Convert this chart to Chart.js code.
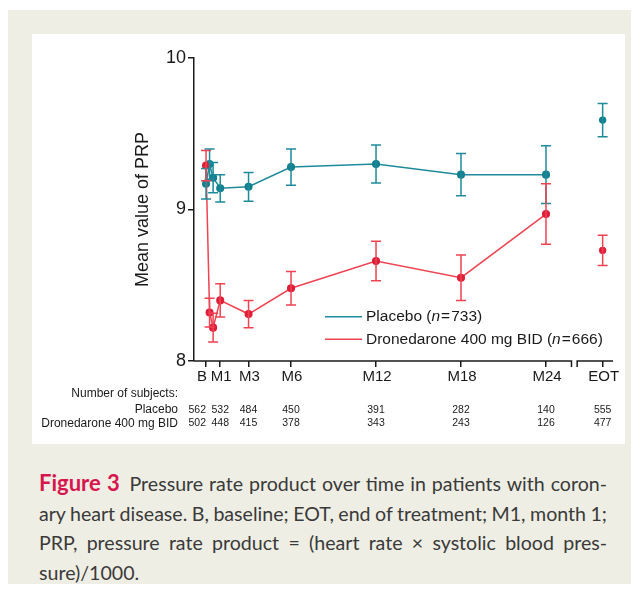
<!DOCTYPE html>
<html>
<head>
<meta charset="utf-8">
<script src="https://cdn.jsdelivr.net/npm/chart.js@4.4.0/dist/chart.umd.min.js"></script>
<style>
  html, body { margin: 0; padding: 0; background: #fff; width: 637px; height: 594px; overflow: hidden; }
  #bg { position: absolute; left: 8px; top: 10px; width: 623px; height: 574px; background: #efeee4; }
  #panel { position: absolute; left: 32px; top: 34px; width: 593px; height: 410px; background: #fff; }
  #cap { position: absolute; left: 39px; top: 468px; width: 568px; font-family: Lato, "Open Sans", sans-serif;
         font-size: 19.6px; line-height: 29.5px; color: #3a3a3a; word-spacing: -1.5px; }
  #cap div { text-align: justify; text-align-last: justify; white-space: nowrap; }
  #cap div.last { text-align: left; text-align-last: left; }
  #cap b { color: #d6164e; font-size: 22px; }
</style>
</head>
<body>
<div id="bg"></div>
<div id="panel"><canvas id="chart" width="593" height="410"></canvas></div>
<div id="cap">
  <div><b>Figure 3</b>&ensp;Pressure rate product over time in patients with coron-</div>
  <div>ary heart disease. B, baseline; EOT, end of treatment; M1, month 1;</div>
  <div>PRP, pressure rate product = (heart rate × systolic blood pres-</div>
  <div class="last">sure)/1000.</div>
</div>
<script>
// visits in months (B = 0, week 1, week 2, M1 ... M24)
const months = [0, 0.25, 0.5, 1, 3, 6, 12, 18, 24];
const placeboMean = [9.17, 9.30, 9.21, 9.14, 9.15, 9.28, 9.30, 9.23, 9.23];
const placeboErr  = [0.10, 0.10, 0.10, 0.09, 0.095, 0.12, 0.125, 0.14, 0.19];
const droneMean   = [9.29, 8.32, 8.22, 8.40, 8.31, 8.48, 8.66, 8.55, 8.97];
const droneErr    = [0.10, 0.095, 0.095, 0.11, 0.09, 0.11, 0.13, 0.15, 0.20];

// end of treatment, drawn apart from the time course
const eotMonth = 28;
const placeboEot = [9.59];
const placeboEotErr = [0.11];
const droneEot = [8.73];
const droneEotErr = [0.10];

const tickMonths = [0, 1, 3, 6, 12, 18, 24, 28];
const tickLabels = ['B', 'M1', 'M3', 'M6', 'M12', 'M18', 'M24', 'EOT'];
const yTicks = [8, 9, 10];

// number of subjects under each tick
const placeboN = [562, 532, 484, 450, 391, 282, 140, 555];
const droneN   = [502, 448, 415, 378, 343, 243, 126, 477];

const TEAL = '#1e8b9b';
const TEAL_DOT = '#13808f';
const RED = '#ef4352';
const RED_DOT = '#dd1f3a';
const INK = '#1a1a1a';
const FONT = '"Liberation Sans", Arial, Helvetica, sans-serif';

const pts = (xs, ys) => xs.map((x, i) => ({ x: x, y: ys[i] }));

const errorBars = {
  id: 'errorBars',
  afterDatasetsDraw(chart) {
    const ctx = chart.ctx;
    const xs = chart.scales.x, ys = chart.scales.y;
    const sets = [
      [months, placeboMean, placeboErr, TEAL],
      [[eotMonth], placeboEot, placeboEotErr, TEAL],
      [months, droneMean, droneErr, RED],
      [[eotMonth], droneEot, droneEotErr, RED]
    ];
    ctx.save();
    ctx.lineWidth = 1.5;
    sets.forEach(([mx, my, me, col]) => {
      ctx.strokeStyle = col;
      mx.forEach((m, i) => {
        const px = xs.getPixelForValue(m);
        const top = ys.getPixelForValue(my[i] + me[i]);
        const bot = ys.getPixelForValue(my[i] - me[i]);
        ctx.beginPath();
        ctx.moveTo(px, top); ctx.lineTo(px, bot);
        ctx.moveTo(px - 5, top); ctx.lineTo(px + 5, top);
        ctx.moveTo(px - 5, bot); ctx.lineTo(px + 5, bot);
        ctx.stroke();
      });
    });
    ctx.restore();
  }
};

const decorations = {
  id: 'decorations',
  afterDraw(chart) {
    const ctx = chart.ctx;
    const a = chart.chartArea;
    const xs = chart.scales.x;
    ctx.save();

    // x axis with a break before EOT
    const b1 = xs.getPixelForValue(25.8), b2 = xs.getPixelForValue(26.2);
    ctx.strokeStyle = INK;
    ctx.lineWidth = 1.5;
    ctx.beginPath();
    ctx.moveTo(a.left, a.bottom); ctx.lineTo(b1, a.bottom); ctx.lineTo(b1, a.bottom + 6);
    ctx.moveTo(b2, a.bottom + 6); ctx.lineTo(b2, a.bottom); ctx.lineTo(a.right, a.bottom);
    ctx.stroke();

    // x tick labels
    ctx.fillStyle = INK;
    ctx.font = '15px ' + FONT;
    ctx.textBaseline = 'middle';
    tickMonths.forEach((m, i) => {
      const px = xs.getPixelForValue(m);
      if (i === 0) { ctx.textAlign = 'right'; ctx.fillText(tickLabels[i], px + 1, a.bottom + 16); }
      else { ctx.textAlign = 'center'; ctx.fillText(tickLabels[i], px + 1, a.bottom + 16); }
    });

    // y title
    ctx.save();
    ctx.translate(111, (a.top + a.bottom) / 2);
    ctx.rotate(-Math.PI / 2);
    ctx.textAlign = 'center';
    ctx.font = '18px ' + FONT;
    ctx.fillText('Mean value of PRP', 0, 0);
    ctx.restore();

    // number of subjects table
    ctx.font = '12px ' + FONT;
    ctx.textAlign = 'right';
    ctx.fillText('Number of subjects:', 146, a.bottom + 33);
    ctx.fillText('Placebo', 146, a.bottom + 49);
    ctx.fillText('Dronedarone 400 mg BID', 146, a.bottom + 62.5);
    ctx.font = '10.5px ' + FONT;
    tickMonths.forEach((m, i) => {
      const px = xs.getPixelForValue(m);
      ctx.textAlign = i === 0 ? 'right' : 'center';
      ctx.fillText(String(placeboN[i]), px, a.bottom + 49);
      ctx.fillText(String(droneN[i]), px, a.bottom + 62.5);
    });

    // legend
    const legend = [
      [TEAL, 'Placebo (', '733)', a.top + 258.7],
      [RED, 'Dronedarone 400 mg BID (', '666)', a.top + 281.3]
    ];
    ctx.textAlign = 'left';
    legend.forEach(([col, pre, post, y]) => {
      ctx.strokeStyle = col;
      ctx.lineWidth = 1.5;
      ctx.beginPath(); ctx.moveTo(293, y); ctx.lineTo(330, y); ctx.stroke();
      let x = 334;
      ctx.font = '15.5px ' + FONT;
      ctx.fillText(pre, x, y); x += ctx.measureText(pre).width;
      ctx.font = 'italic 15.5px ' + FONT;
      ctx.fillText('n', x, y); x += ctx.measureText('n').width + 1;
      ctx.font = '15.5px ' + FONT;
      ctx.fillText('=', x, y); x += ctx.measureText('=').width + 1;
      ctx.fillText(post, x, y);
    });
    ctx.restore();
  }
};

new Chart(document.getElementById('chart'), {
  type: 'line',
  data: {
    datasets: [
      { label: 'Dronedarone 400 mg BID', data: pts(months, droneMean), borderColor: RED, backgroundColor: RED_DOT,
        pointBackgroundColor: RED_DOT, pointBorderColor: RED_DOT, borderWidth: 1.5, pointRadius: 3.3, tension: 0 },
      { label: 'Dronedarone EOT', data: pts([eotMonth], droneEot), showLine: false, borderColor: RED_DOT,
        pointBackgroundColor: RED_DOT, pointBorderColor: RED_DOT, pointRadius: 3.3 },
      { label: 'Placebo', data: pts(months, placeboMean), borderColor: TEAL, backgroundColor: TEAL_DOT,
        pointBackgroundColor: TEAL_DOT, pointBorderColor: TEAL_DOT, borderWidth: 1.5, pointRadius: 3.3, tension: 0 },
      { label: 'Placebo EOT', data: pts([eotMonth], placeboEot), showLine: false, borderColor: TEAL_DOT,
        pointBackgroundColor: TEAL_DOT, pointBorderColor: TEAL_DOT, pointRadius: 3.3 }
    ]
  },
  options: {
    responsive: false,
    animation: false,
    devicePixelRatio: 1,
    layout: { padding: { top: 24, right: 12, left: 0, bottom: 0 }, autoPadding: false },
    plugins: { legend: { display: false }, tooltip: { enabled: false } },
    scales: {
      x: {
        type: 'linear', min: -0.85, max: 28.73,
        afterBuildTicks: s => { s.ticks = tickMonths.map(v => ({ value: v })); },
        afterFit: s => { s.height = 83; },
        ticks: { display: false },
        border: { display: false },
        grid: { drawOnChartArea: false, drawTicks: true, tickLength: 6, color: INK, lineWidth: 1.5 }
      },
      y: {
        min: 8, max: 10,
        afterBuildTicks: s => { s.ticks = yTicks.map(v => ({ value: v })); },
        afterFit: s => { s.width = 162; },
        ticks: { color: INK, font: { family: FONT, size: 18 }, padding: 2 },
        border: { display: true, color: INK, width: 1.5 },
        grid: { drawOnChartArea: false, drawTicks: true, tickLength: 6, color: INK, lineWidth: 1.5 }
      }
    }
  },
  plugins: [errorBars, decorations]
});
</script>
</body>
</html>
